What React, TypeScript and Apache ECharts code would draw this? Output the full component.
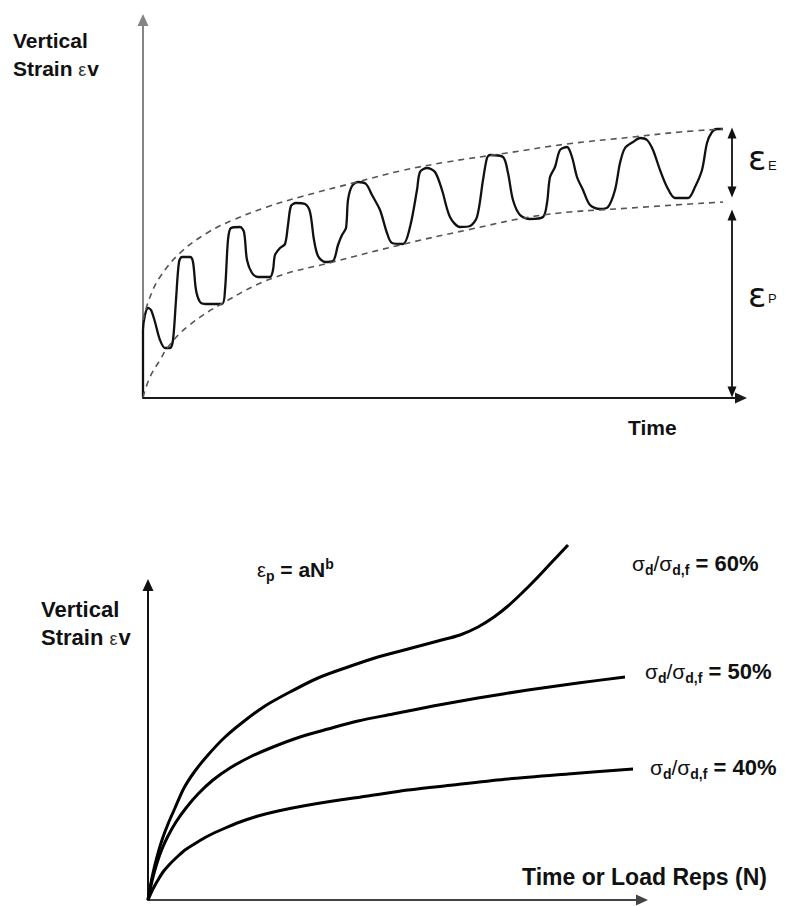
import React, { useEffect, useRef } from 'react';
import * as echarts from 'echarts';

// ---------- Top diagram: vertical strain under repeated loading (time units / strain units)
const WAVE: [number, number][] = [
  [0, 1], [0, 68], [2, 83], [5, 90], [8, 88], [12, 76], [17, 58], [22, 50], [27, 50], [30, 58],
  [33, 98], [36, 136], [39, 141], [47, 141], [50, 136], [53, 108], [57, 96], [62, 94], [79, 94],
  [82, 108], [85, 158], [88, 170], [97, 171], [101, 166], [104, 138], [109, 125], [115, 121],
  [127, 121], [130, 128], [132, 143], [137, 150], [142, 154], [145, 173], [148, 192], [153, 195],
  [162, 194], [167, 186], [171, 158], [175, 142], [182, 136], [190, 137], [195, 153], [199, 163],
  [203, 170], [205, 198], [209, 212], [215, 216], [223, 214], [229, 203], [237, 188], [244, 165],
  [249, 155], [260, 154], [267, 171], [274, 208], [277, 226], [284, 230], [292, 226], [299, 208],
  [307, 181], [317, 171], [327, 172], [334, 181], [340, 218], [344, 240], [347, 243], [360, 241],
  [365, 225], [370, 198], [377, 183], [387, 179], [400, 181], [404, 195], [407, 221], [412, 231],
  [417, 248], [424, 251], [429, 241], [434, 221], [440, 208], [447, 193], [457, 189], [465, 191],
  [472, 208], [477, 235], [482, 250], [490, 256], [497, 260], [504, 258], [510, 248], [517, 228],
  [524, 211], [532, 200], [545, 200], [552, 211], [559, 228], [564, 255], [569, 266], [574, 269],
  [580, 269],
];
const UPPER_ENVELOPE: [number, number][] = [
  [0, 78], [7, 101], [17, 121], [37, 145], [64, 165], [90, 178], [124, 191], [157, 201],
  [214, 216], [257, 227], [304, 236], [364, 245], [424, 254], [490, 261], [537, 266], [580, 269],
];
const LOWER_ENVELOPE: [number, number][] = [
  [0, 1], [7, 21], [17, 38], [25, 51], [44, 71], [80, 95], [130, 120], [190, 136], [257, 153],
  [324, 168], [400, 183], [487, 190], [580, 196],
];
const ELASTIC_SPAN: [number, number] = [265, 206]; // εE arrow (strain range)
const PLASTIC_SPAN: [number, number] = [183, 6]; // εP arrow (strain range)
const SPAN_TIME = 589;
const TOP_X_MAX = 598;
const TOP_Y_MAX = 378;

// ---------- Bottom diagram: permanent strain vs load repetitions
const CURVE_60: [number, number][] = [
  [0, 0], [2, 12], [5, 27], [9, 43], [14, 60], [20, 76], [27, 92], [36, 112], [47, 129], [60, 145],
  [76, 162], [95, 178], [117, 194], [142, 208], [170, 222], [200, 233], [230, 243], [260, 251],
  [290, 259], [312, 265], [330, 273], [346, 283], [360, 294], [374, 307], [388, 321], [403, 337],
  [420, 355],
];
const CURVE_50: [number, number][] = [
  [0, 0], [2, 10], [5, 23], [9, 37], [14, 51], [20, 64], [28, 78], [38, 92], [50, 106], [65, 120],
  [82, 132], [102, 143], [125, 153], [152, 163], [180, 171], [210, 179], [245, 186], [285, 194],
  [330, 202], [380, 210], [430, 217], [477, 223],
];
const CURVE_40: [number, number][] = [
  [0, 0], [3, 7], [6, 13], [10, 20], [15, 28], [21, 35], [28, 42], [37, 50], [48, 57], [60, 64],
  [75, 71], [92, 78], [110, 84], [130, 89], [155, 94], [185, 99], [220, 104], [260, 110],
  [305, 115], [360, 121], [420, 126], [485, 131],
];
const CURVE_RATIOS = ['60%', '50%', '40%'];
const BOTTOM_X_MAX = 494;
const BOTTOM_Y_MAX = 315;

const FONT = '"Liberation Sans", Arial, Helvetica, sans-serif';
const EPS_FONT = '"DejaVu Sans", "Liberation Sans", sans-serif';
const INK = '#111';

function plainText(x: number, y: number, text: string, size: number, weight = 'bold', family = FONT) {
  return {
    type: 'text',
    x,
    y,
    silent: true,
    style: {
      text,
      fill: INK,
      fontFamily: family,
      fontSize: size,
      fontWeight: weight,
      align: 'left',
      verticalAlign: 'middle',
      textAlign: 'left',
      textVerticalAlign: 'middle',
    },
  };
}

function richText(x: number, y: number, text: string, rich: any) {
  return {
    type: 'text',
    x,
    y,
    silent: true,
    style: {
      text,
      fill: INK,
      fontFamily: FONT,
      align: 'left',
      verticalAlign: 'middle',
      textAlign: 'left',
      textVerticalAlign: 'middle',
      rich,
    },
  };
}

const strainRich = (size: number) => ({
  m: { fontFamily: FONT, fontSize: size, fontWeight: 'bold', lineHeight: size, verticalAlign: 'middle', fill: INK },
  e: { fontFamily: FONT, fontSize: 18, fontWeight: 'normal', lineHeight: 18, padding: [3, 1, 0, 0], verticalAlign: 'middle', fill: '#333' },
});

const sigmaRich = {
  g: { fontFamily: FONT, fontSize: 21, fontWeight: 'normal', lineHeight: 22, verticalAlign: 'middle', fill: INK },
  s: { fontFamily: FONT, fontSize: 14, fontWeight: 'bold', lineHeight: 14, padding: [13, 0, 0, 0], verticalAlign: 'middle', fill: INK },
  m: { fontFamily: FONT, fontSize: 22, fontWeight: 'bold', lineHeight: 22, verticalAlign: 'middle', fill: INK },
};

const powerRich = {
  e: { fontFamily: FONT, fontSize: 20, fontWeight: 'normal', lineHeight: 20, verticalAlign: 'middle', fill: INK },
  s: { fontFamily: FONT, fontSize: 14, fontWeight: 'bold', lineHeight: 14, padding: [12, 0, 0, 0], verticalAlign: 'middle', fill: INK },
  m: { fontFamily: FONT, fontSize: 21, fontWeight: 'bold', lineHeight: 21, verticalAlign: 'middle', fill: INK },
  u: { fontFamily: FONT, fontSize: 14, fontWeight: 'bold', lineHeight: 14, padding: [0, 0, 11, 0], verticalAlign: 'middle', fill: INK },
};

function axis(gridIndex: number, max: number, color: string, isX: boolean) {
  return {
    type: 'value',
    gridIndex,
    min: 0,
    max,
    axisLine: {
      show: true,
      onZero: false,
      symbol: ['none', 'triangle'],
      symbolSize: [11, 12],
      lineStyle: { color, width: 2 },
    },
    axisTick: { show: false },
    axisLabel: { show: false },
    splitLine: { show: false },
    position: isX ? 'bottom' : 'left',
  };
}

const labelPositions = [
  [632, 563],
  [645, 671],
  [650, 767],
];

export default function App() {
  const ref = useRef<HTMLDivElement>(null);

  useEffect(() => {
    document.body.style.margin = '0';
    if (!ref.current) return;
    const chart = echarts.init(ref.current, undefined, { renderer: 'svg' });

    const curveStyle = { color: '#000', width: 3 };

    const option: any = {
      animation: false,
      backgroundColor: '#fff',
      grid: [
        { left: 143, top: 20, width: TOP_X_MAX, height: TOP_Y_MAX },
        { left: 148, top: 585, width: BOTTOM_X_MAX, height: BOTTOM_Y_MAX },
      ],
      xAxis: [axis(0, TOP_X_MAX, '#1a1a1a', true), axis(1, BOTTOM_X_MAX, '#444', true)],
      yAxis: [axis(0, TOP_Y_MAX, '#858585', false), axis(1, BOTTOM_Y_MAX, '#111', false)],
      series: [
        {
          type: 'line',
          xAxisIndex: 0,
          yAxisIndex: 0,
          data: WAVE,
          symbol: 'none',
          smooth: 0.3,
          clip: false,
          silent: true,
          lineStyle: { color: '#111', width: 2.3 },
          markLine: {
            silent: true,
            symbol: ['triangle', 'triangle'],
            symbolSize: [9, 11],
            label: { show: false },
            lineStyle: { color: '#111', width: 1.8, type: 'solid' },
            data: [
              [{ coord: [SPAN_TIME, ELASTIC_SPAN[0]] }, { coord: [SPAN_TIME, ELASTIC_SPAN[1]] }],
              [{ coord: [SPAN_TIME, PLASTIC_SPAN[0]] }, { coord: [SPAN_TIME, PLASTIC_SPAN[1]] }],
            ],
          },
        },
        {
          type: 'line',
          xAxisIndex: 0,
          yAxisIndex: 0,
          data: UPPER_ENVELOPE,
          symbol: 'none',
          smooth: 0.4,
          clip: false,
          silent: true,
          lineStyle: { color: '#555', width: 1.6, type: [6, 5] },
        },
        {
          type: 'line',
          xAxisIndex: 0,
          yAxisIndex: 0,
          data: LOWER_ENVELOPE,
          symbol: 'none',
          smooth: 0.4,
          clip: false,
          silent: true,
          lineStyle: { color: '#555', width: 1.6, type: [6, 5] },
        },
        ...[CURVE_60, CURVE_50, CURVE_40].map((d, i) => ({
          type: 'line',
          name: CURVE_RATIOS[i],
          xAxisIndex: 1,
          yAxisIndex: 1,
          data: d,
          symbol: 'none',
          smooth: 0.3,
          clip: false,
          silent: true,
          lineStyle: curveStyle,
        })),
      ],
      graphic: [
        // top diagram texts
        plainText(13, 40.5, 'Vertical', 21),
        richText(13, 68, '{m|Strain }{e|ε}{m|v}', strainRich(21)),
        plainText(628, 427, 'Time', 21),
        plainText(748, 158, 'ε', 34, 'normal', EPS_FONT),
        plainText(768, 165, 'E', 13, 'normal'),
        plainText(748, 295, 'ε', 34, 'normal', EPS_FONT),
        plainText(768, 298, 'P', 13, 'normal'),
        // bottom diagram texts
        plainText(41, 609, 'Vertical', 22),
        richText(41, 637, '{m|Strain }{e|ε}{m|v}', strainRich(22)),
        richText(257, 569.5, '{e|ε}{s|p}{m| = aN}{u|b}', powerRich),
        ...CURVE_RATIOS.map((r, i) =>
          richText(labelPositions[i][0], labelPositions[i][1], `{g|σ}{s|d}{g|/σ}{s|d,f}{m| = ${r}}`, sigmaRich)
        ),
        plainText(522, 877, 'Time or Load Reps (N)', 23),
      ],
    };

    chart.setOption(option);
    return () => chart.dispose();
  }, []);

  return <div ref={ref} style={{ width: 785, height: 906 }} />;
}
